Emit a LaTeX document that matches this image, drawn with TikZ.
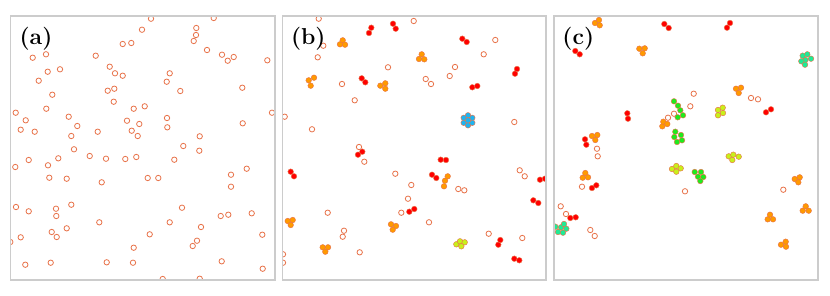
\documentclass[tikz,border=0pt]{standalone}
\usetikzlibrary{positioning}
\definecolor{ring}{HTML}{E8734A}
\definecolor{monoc}{HTML}{FF0000}
\definecolor{duoc}{HTML}{FF9A00}
\definecolor{limec}{HTML}{C8F01A}
\definecolor{greenc}{HTML}{1EEB1E}
\definecolor{aquac}{HTML}{1EEB96}
\definecolor{cyanc}{HTML}{1EB4F0}

\begin{document}
\begin{tikzpicture}[x=1pt, y=-1pt,
    frame/.style={draw=gray!40, line width=1.2pt},
    free/.style={draw=ring, fill=white, line width=0.8pt},
    bead/.style={draw=ring, line width=0.45pt},
    tag/.style={font=\fontsize{23}{25}\selectfont\bfseries, inner sep=0pt}
]
\useasboundingbox (0,0) rectangle (830,295);

% panel (a): free particles only
\begin{scope}
  \clip (10.3,16) rectangle (275,280);
  \foreach \x/\y in {151/18.7, 213.7/18, 142/29.7, 196.3/28, 196/35, 193.7/41, 131.3/43, 122.7/44,
      46/54.3, 32.7/57.7, 95.7/55.7, 207/50, 222/54.7, 233.7/57, 227.7/60.7, 267.3/60.3, 60/69.3,
      47.7/71.7, 109.7/66.7, 115/73.3, 122.7/75.7, 169.7/73.3, 166.7/81.7, 38.7/80.7, 114.3/88.7,
      107.7/90.7, 180.3/91, 242.3/87.7, 52.3/94.7, 113.7/101.7, 46.3/108.7, 133.7/108.7, 144.7/106.3,
      15.7/112.7, 272/112.7, 68.7/116.7, 25.7/120.3, 127/120.7, 167/118, 77.3/126, 139.3/124,
      242.7/123.3, 20.7/129.7, 34.7/131.7, 97.7/131.7, 131.7/130.7, 167.3/127.3, 71.3/136, 137.7/136,
      199.7/136.3, 183.3/146, 74/149.3, 199.3/150.7, 89.7/156, 28.7/160, 58.3/158.3, 48/165.3,
      15.3/167, 106/158.7, 125.3/159, 136.3/157, 174.3/159.7, 246.7/168.7, 231/174.7, 231/186.7,
      49.3/177.7, 66.7/178.7, 101.7/182.3, 147.7/178, 158.3/178, 16/207, 28.7/211.3, 56/208.7,
      56.3/216, 71.3/204.7, 182/207.7, 220.7/216, 228.3/214.7, 251.7/213.3, 99.3/222.3, 169.7/222.3,
      201/227, 66.7/228.3, 51.7/232, 56.7/237, 20.7/237.3, 10.3/242, 149.7/234.3, 262.3/234.7,
      197/240.7, 192.7/246, 133.7/247.7, 25.3/264.7, 50.7/262.7, 106.7/262.3, 133/262.7,
      221.7/261.3, 262.7/268.7, 162.7/279, 199.7/278.7}
    \draw[free] (\x,\y) circle (2.7);
\end{scope}
\draw[frame] (10.3,16) rectangle (275,280);

% panel (b)
\begin{scope}
  \clip (282.3,16) rectangle (546,280);
  \foreach \x/\y in {318.7/18.7, 413.7/21, 323.3/45.7, 317.7/57.3, 495.3/40, 483.7/54.3, 388/67.3,
      455/67, 449.7/76, 425.7/79, 431/84, 342/84, 354.7/100.3, 284.7/116.7, 312/129.3, 514.3/122,
      359/147, 364.3/161.7, 395.3/173.7, 411.3/185, 408/198.7, 401.3/212.7, 327.7/212.7, 429/222.3,
      344/230.7, 342.7/236.7, 359.7/252.3, 458.3/189, 464.3/190.3, 519.7/170.3, 524.7/176.3,
      488.7/233.7, 522.3/238, 283/254.3, 283/262.7}
    \draw[free] (\x,\y) circle (2.7);
  \foreach \x/\y/\c in {369/33/monoc, 371.3/27.7/monoc, 393/23.7/monoc, 395.7/28.7/monoc,
      462.3/38.7/monoc, 466.7/42/monoc, 517/69/monoc, 515/73.7/monoc, 361.7/78.3/monoc,
      365.3/82.3/monoc, 472.3/87.3/monoc, 477.3/86/monoc, 358/154.7/monoc, 362.3/151.7/monoc,
      290.7/171.7/monoc, 294/176.3/monoc, 440.7/159.7/monoc, 446/160/monoc, 432/174.7/monoc,
      436.3/178/monoc, 540/179.7/monoc, 545/178.7/monoc, 533.3/200.3/monoc, 538.3/203/monoc,
      409.3/211.7/monoc, 414.3/209/monoc, 498.3/244.7/monoc, 500.3/240/monoc, 514.3/258.7/monoc,
      519.3/260.3/monoc,
      340/44.3/duoc, 342.7/40.3/duoc, 345/44.7/duoc, 419/59/duoc, 421.7/54.3/duoc, 424.3/59.3/duoc,
      308.7/80.3/duoc, 314/77.7/duoc, 310.7/85.7/duoc, 380.3/85.7/duoc, 385.3/83.3/duoc,
      385.3/88.7/duoc, 445/180.7/duoc, 447.7/176.3/duoc, 444/186.3/duoc, 287.7/221/duoc,
      292.7/220/duoc, 290.7/225/duoc, 391/224.3/duoc, 396/226/duoc, 392.7/229.7/duoc,
      322.7/247.3/duoc, 328/247.3/duoc, 325.3/251.7/duoc,
      456.3/244.3/limec, 460/241.3/limec, 464.7/242.3/limec, 461.3/246.3/limec,
      472.3/117.8/cyanc, 468/115.3/cyanc, 463.7/117.8/cyanc, 463.7/122.8/cyanc, 468/125.3/cyanc,
      472.3/122.8/cyanc, 468/120.3/cyanc}
    \draw[bead, fill=\c] (\x,\y) circle (2.8);
\end{scope}
\draw[frame] (282.3,16) rectangle (546,280);

% panel (c)
\begin{scope}
  \clip (554,16) rectangle (818,280);
  \foreach \x/\y in {693.7/93.7, 751/98, 758/99.3, 690.3/106.3, 668/117.7, 674/113.7, 597/148.7,
      597.7/156.3, 582/186.7, 685/191.3, 783.3/189.7, 560.7/206.3, 566/214, 590.3/230, 594.7/236}
    \draw[free] (\x,\y) circle (2.7);
  \foreach \x/\y/\c in {664.3/24/monoc, 668.7/28/monoc, 730/23/monoc, 727/27.7/monoc,
      575.3/51/monoc, 579.7/54.3/monoc, 627.3/113.3/monoc, 628/118.7/monoc, 766/112.3/monoc,
      771/109.3/monoc, 585/139.3/monoc, 586.3/144.7/monoc, 592/188/monoc, 596.3/185.3/monoc,
      570.3/218/monoc, 575.7/217.3/monoc,
      595/23/duoc, 599/20/duoc, 599.7/25.3/duoc, 639.3/48.7/duoc, 644.7/48.3/duoc, 642.7/53.3/duoc,
      736/88.7/duoc, 741/87.7/duoc, 738.7/93/duoc, 662.3/126.3/duoc, 663.3/121.7/duoc,
      667.3/124/duoc, 592/136/duoc, 597.3/135/duoc, 595.3/140/duoc, 582.7/177.7/duoc,
      585.3/173/duoc, 588/177.3/duoc, 794.7/179/duoc, 799.7/177.3/duoc, 798.3/182.3/duoc,
      802.7/210.7/duoc, 805.7/206.3/duoc, 808.7/210.7/duoc, 767.7/219.3/duoc, 770/214.7/duoc,
      773/219.3/duoc, 781/244.7/duoc, 785.7/241.7/duoc, 786/246.7/duoc,
      674/101.3/greenc, 678/105.7/greenc, 680.3/110.3/greenc, 683/115.3/greenc, 677.7/117.3/greenc,
      675.3/131.7/greenc, 674.3/137/greenc, 677/142/greenc, 682/140.3/greenc, 681/135/greenc,
      694.7/172/greenc, 701/172/greenc, 698/176.7/greenc, 703.3/177/greenc, 700.3/181/greenc,
      718/110/limec, 722.7/107.7/limec, 723/113/limec, 718/115.3/limec, 672/169/limec,
      676.3/166/limec, 680.7/168.3/limec, 676.3/171.7/limec, 728.7/156.3/limec, 733.3/154.7/limec,
      738.7/156.7/limec, 732.3/160/limec,
      802.7/55.7/aquac, 807.3/54.3/aquac, 811/58.7/aquac, 805.3/60/aquac, 801.3/61.3/aquac,
      805/64.7/aquac, 555.3/226.7/aquac, 561/227.3/aquac, 564/224/aquac, 566.3/228.7/aquac,
      558/232/aquac, 563/232.7/aquac}
    \draw[bead, fill=\c] (\x,\y) circle (2.8);
\end{scope}
\draw[frame] (554,16) rectangle (818,280);

% panel tags
\node[tag] (taga) at (36,39) {(a)};
\node[tag] (tagb) at (308.3,39) {(b)};
\node[tag] (tagc) at (578.3,39) {(c)};
\end{tikzpicture}
\end{document}
